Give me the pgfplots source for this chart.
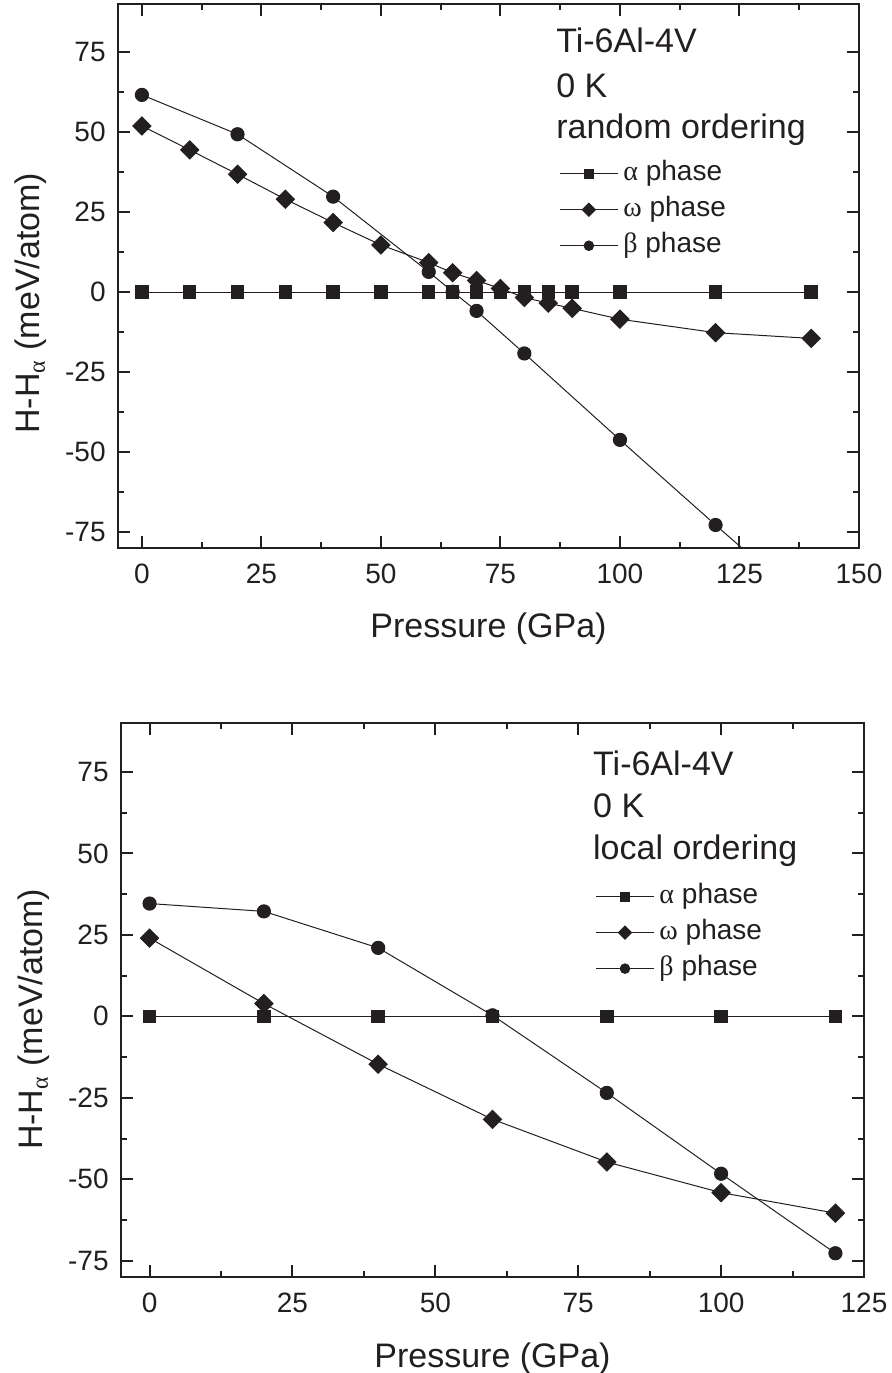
\documentclass[border=0pt]{standalone}
\usepackage{pgfplots}
\pgfplotsset{compat=1.18}
\usepackage{fontspec}
\setmainfont{Liberation Sans}
\newfontfamily\grk{Liberation Serif}
\definecolor{ink}{HTML}{231F20}

\pgfplotsset{
  panel/.style={
    scale only axis,
    axis line style={line width=1pt, ink},
    tick style={line width=1pt, ink},
    tick align=inside,
    major tick length=6pt, minor tick length=3pt,
    minor x tick num=1, minor y tick num=1,
    ymin=-80, ymax=90, xmin=-5,
    ytick={-75,-50,...,75}, yticklabels={-75,-50,-25,0,25,50,75},
    yticklabel style={anchor=east, inner sep=0pt, xshift=-6pt, font=\fontsize{14}{14}\selectfont, text=ink},
    xticklabel style={anchor=base, inner sep=0pt, yshift=-17.5pt, font=\fontsize{14}{14}\selectfont, text=ink},
    xlabel={Pressure (GPa)},
    xlabel style={at={(axis description cs:0.5,-0.1636)}, anchor=base, font=\fontsize{17}{17}\selectfont, text=ink},
    ylabel={H-H\textsubscript{\grk α} (meV/atom)},
    ylabel style={anchor=center, font=\fontsize{17}{17}\selectfont, text=ink},
    legend image code/.code={\draw[mark repeat=2, mark phase=2, #1] plot coordinates {(0pt,0pt) (14.5pt,0pt) (29pt,0pt)};},
    legend image post style={every mark/.append style={scale=0.72}},
    legend cell align=left,
    legend style={draw=none, fill=none, anchor=north west, row sep=5pt, column sep=0pt,
      font=\fontsize{14}{14}\selectfont, text=ink,
      nodes={inner xsep=2.5pt, inner ysep=0pt, text height=10pt, text depth=3pt}},
  },
  ser/.style={ink, line width=0.5pt, mark options={solid, fill=ink, draw=ink}},
}

\begin{document}
\begin{tikzpicture}
\useasboundingbox (0,0) rectangle (445.5pt,-686.5pt);

% top panel: random ordering
\begin{axis}[panel, at={(59pt,-2pt)}, anchor=north west,
    width=370.5pt, height=272pt, xmax=150,
    xtick={0,25,...,150}, xticklabels={0,25,50,75,100,125,150},
    ylabel style={at={(axis description cs:-0.1174,0.45)}},
    legend style={at={(axis description cs:0.587,0.720)}}]
\addplot[ser, mark=square*, mark size=3.1pt] coordinates {
  (0,0) (10,0) (20,0) (30,0) (40,0) (50,0) (60,0) (65,0) (70,0)
  (75,0) (80,0) (85,0) (90,0) (100,0) (120,0) (140,0)
};
\addlegendentry{{\grk α} phase}
\addplot[ser, mark=square*, mark size=3.2pt, mark options={rotate=45}] coordinates {
  (0,51.9) (10,44.4) (20,36.8) (30,29.0) (40,21.7) (50,14.7) (60,9.2) (65,6.0)
  (70,3.6) (75,1.1) (80,-1.7) (85,-3.5) (90,-5.1) (100,-8.5) (120,-12.7) (140,-14.5)
};
\addlegendentry{{\grk ω} phase}
\addplot[ser, mark=*, mark size=3.3pt] coordinates {
  (0,61.6) (20,49.3) (40,29.8) (60,6.3) (65,0.1) (70,-5.9) (80,-19.2)
  (100,-46.2) (120,-72.8) (140,-99)
};
\addlegendentry{{\grk β} phase}
\node[anchor=base west, inner sep=0pt, font=\fontsize{17}{17}\selectfont, text=ink] at (axis description cs:0.591,0.910) {Ti-6Al-4V};
\node[anchor=base west, inner sep=0pt, font=\fontsize{17}{17}\selectfont, text=ink] at (axis description cs:0.591,0.829) {0 K};
\node[anchor=base west, inner sep=0pt, font=\fontsize{17}{17}\selectfont, text=ink] at (axis description cs:0.591,0.752) {random ordering};
\end{axis}

% bottom panel: local ordering
\begin{axis}[panel, at={(60.5pt,-361.5pt)}, anchor=north west,
    width=371.5pt, height=277pt, xmax=125,
    xtick={0,25,...,125}, xticklabels={0,25,50,75,100,125},
    ylabel style={at={(axis description cs:-0.1174,0.465)}},
    legend style={at={(axis description cs:0.630,0.718)}}]
\addplot[ser, mark=square*, mark size=3.1pt] coordinates {
  (0,0) (20,0) (40,0) (60,0) (80,0) (100,0) (120,0)
};
\addlegendentry{{\grk α} phase}
\addplot[ser, mark=square*, mark size=3.2pt, mark options={rotate=45}] coordinates {
  (0,24.0) (20,3.9) (40,-14.7) (60,-31.6) (80,-44.7) (100,-54.1) (120,-60.4)
};
\addlegendentry{{\grk ω} phase}
\addplot[ser, mark=*, mark size=3.3pt] coordinates {
  (0,34.6) (20,32.2) (40,21.0) (60,0.3) (80,-23.5) (100,-48.3) (120,-72.7)
};
\addlegendentry{{\grk β} phase}
\node[anchor=base west, inner sep=0pt, font=\fontsize{17}{17}\selectfont, text=ink] at (axis description cs:0.635,0.906) {Ti-6Al-4V};
\node[anchor=base west, inner sep=0pt, font=\fontsize{17}{17}\selectfont, text=ink] at (axis description cs:0.635,0.830) {0 K};
\node[anchor=base west, inner sep=0pt, font=\fontsize{17}{17}\selectfont, text=ink] at (axis description cs:0.635,0.753) {local ordering};
\end{axis}
\end{tikzpicture}
\end{document}
